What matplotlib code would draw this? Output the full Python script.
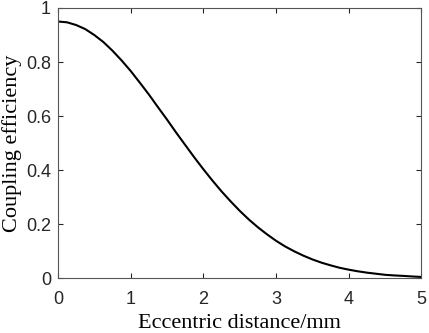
import matplotlib.pyplot as plt

# Eccentric distance (mm) and coupling efficiency
distance = [0.0, 0.125, 0.25, 0.375, 0.5, 0.625, 0.75, 0.875, 1.0, 1.125,
            1.25, 1.375, 1.5, 1.625, 1.75, 1.875, 2.0, 2.125, 2.25, 2.375,
            2.5, 2.625, 2.75, 2.875, 3.0, 3.125, 3.25, 3.375, 3.5, 3.625,
            3.75, 3.875, 4.0, 4.125, 4.25, 4.375, 4.5, 4.625, 4.75, 4.875, 5.0]
efficiency = [0.950, 0.947, 0.937, 0.922, 0.900, 0.874, 0.842, 0.806, 0.767,
              0.724, 0.680, 0.633, 0.587, 0.539, 0.493, 0.447, 0.403, 0.361,
              0.321, 0.284, 0.249, 0.217, 0.188, 0.162, 0.138, 0.117, 0.099,
              0.083, 0.069, 0.057, 0.047, 0.038, 0.031, 0.025, 0.020, 0.016,
              0.012, 0.0097, 0.008, 0.0058, 0.004]

x_ticks = [0, 1, 2, 3, 4, 5]
y_ticks = [0, 0.2, 0.4, 0.6, 0.8, 1]
y_tick_labels = ['0', '0.2', '0.4', '0.6', '0.8', '1']


def main():
    fig = plt.figure(figsize=(4.29, 3.33), dpi=100)
    ax = fig.add_axes([0.135, 0.165, 0.8475, 0.811])

    ax.plot(distance, efficiency, color='black', linewidth=1.5)

    ax.set_xlim(0, 5)
    ax.set_ylim(0, 1)
    ax.set_xticks(x_ticks)
    ax.set_xticklabels([str(t) for t in x_ticks])
    ax.set_yticks(y_ticks)
    ax.set_yticklabels(y_tick_labels)

    for lab in ax.get_xticklabels() + ax.get_yticklabels():
        lab.set_fontfamily('Liberation Sans')
        lab.set_fontsize(13)
        lab.set_color('#262626')

    ax.tick_params(direction='in', length=3.5, width=0.8, top=True, right=True,
                   colors='#262626')
    ax.tick_params(axis='x', pad=9)
    ax.tick_params(axis='y', pad=5)
    for s in ax.spines.values():
        s.set_color('#555555')
        s.set_linewidth(0.8)

    ax.set_xlabel('Eccentric distance/mm', fontfamily='Liberation Serif',
                  fontsize=16, labelpad=5)
    ax.set_ylabel('Coupling efficiency', fontfamily='Liberation Serif',
                  fontsize=16, labelpad=3)

    fig.savefig('out.png', dpi=100)


main()
